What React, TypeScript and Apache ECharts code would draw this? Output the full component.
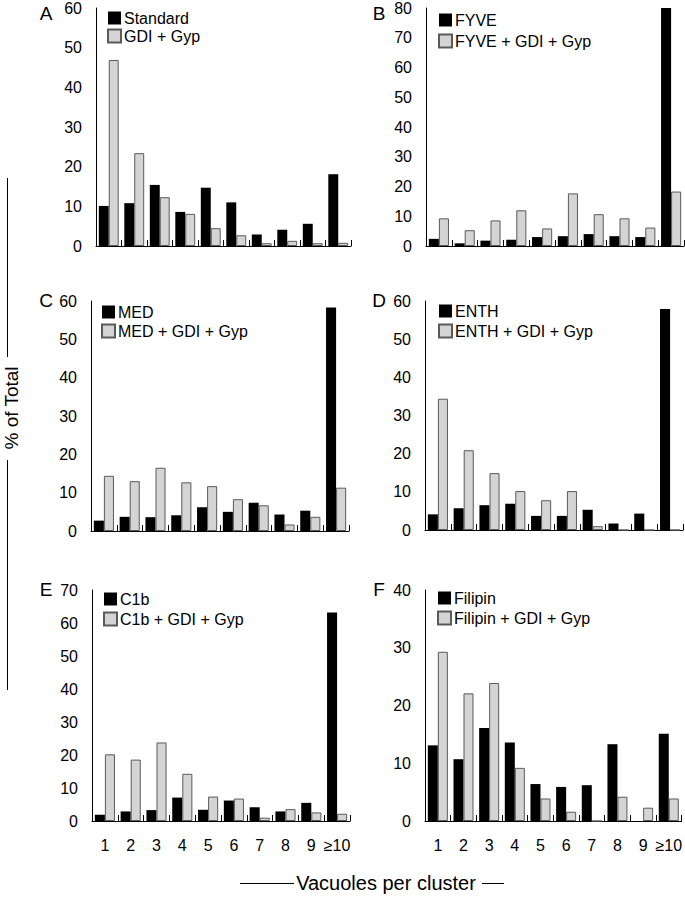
import React, { useEffect, useRef } from "react";
import * as echarts from "echarts";

const categories = ["1", "2", "3", "4", "5", "6", "7", "8", "9", "≥10"];

const standard = [10.1, 10.8, 15.4, 8.6, 14.7, 11.0, 2.9, 4.1, 5.6, 18.1];
const standardGdi = [46.9, 23.4, 12.3, 8.1, 4.5, 2.7, 0.7, 1.3, 0.7, 0.8];
const fyve = [2.4, 0.9, 1.8, 2.1, 3.0, 3.3, 4.0, 3.3, 3.0, 80];
const fyveGdi = [9.3, 5.3, 8.6, 12.0, 5.9, 17.7, 10.7, 9.3, 6.2, 18.3];
const med = [2.7, 3.7, 3.6, 4.1, 6.2, 5.0, 7.4, 4.3, 5.3, 58.3];
const medGdi = [14.4, 13.0, 16.5, 12.7, 11.7, 8.3, 6.7, 1.7, 3.7, 11.3];
const enth = [4.1, 5.7, 6.5, 6.9, 3.7, 3.7, 5.3, 1.7, 4.3, 57.9];
const enthGdi = [34.4, 20.9, 14.9, 10.2, 7.8, 10.2, 1.0, 0, 0, 0];
const c1b = [1.9, 2.9, 3.3, 7.1, 3.4, 6.2, 4.2, 2.9, 5.5, 63.2];
const c1bGdi = [20.2, 18.6, 23.8, 14.3, 7.4, 6.8, 1.0, 3.6, 2.6, 2.2];
const filipin = [13.1, 10.7, 16.1, 13.6, 6.4, 5.9, 6.2, 13.3, 0, 15.1];
const filipinGdi = [29.3, 22.1, 23.9, 9.2, 3.9, 1.6, 0, 4.2, 2.3, 3.9];

const panelLetters = ["A", "B", "C", "D", "E", "F"];
const yMax = [60, 80, 60, 60, 70, 40];
const seriesNames = [
  ["Standard", "GDI + Gyp"],
  ["FYVE", "FYVE + GDI + Gyp"],
  ["MED", "MED + GDI + Gyp"],
  ["ENTH", "ENTH + GDI + Gyp"],
  ["C1b", "C1b + GDI + Gyp"],
  ["Filipin", "Filipin + GDI + Gyp"],
];
const seriesData = [
  [standard, standardGdi],
  [fyve, fyveGdi],
  [med, medGdi],
  [enth, enthGdi],
  [c1b, c1bGdi],
  [filipin, filipinGdi],
];
const xTitle = "Vacuoles per cluster";
const yTitle = "% of Total";

const FONT = "Liberation Sans, Arial, Helvetica, sans-serif";

// layout (pixels)
const grids = [
  { left: 96, top: 8, width: 255, height: 238 },
  { left: 426, top: 8, width: 258, height: 238 },
  { left: 91, top: 301, width: 258, height: 230 },
  { left: 425, top: 301, width: 258, height: 229 },
  { left: 92, top: 590, width: 258, height: 231 },
  { left: 425, top: 590, width: 258, height: 231 },
];
const legendPos = [
  { left: 107, top: 10, gap: 2 },
  { left: 438, top: 12, gap: 5 },
  { left: 101, top: 304, gap: 3 },
  { left: 438, top: 303, gap: 4 },
  { left: 103, top: 591, gap: 4 },
  { left: 437, top: 590, gap: 4 },
];
const letterPos = [
  { x: 46, y: 13 },
  { x: 379, y: 13 },
  { x: 46, y: 300 },
  { x: 379, y: 300 },
  { x: 46, y: 589 },
  { x: 379, y: 589 },
];

export default function App() {
  const ref = useRef<HTMLDivElement>(null);
  useEffect(() => {
    document.body.style.margin = "0";
    if (!ref.current) return;
    const chart = echarts.init(ref.current, undefined, { renderer: "svg" });

    const xAxes = grids.map((_, i) => ({
      type: "category",
      gridIndex: i,
      data: categories,
      axisLine: { show: true, lineStyle: { color: "#000", width: 1 } },
      axisTick: { show: true, inside: true, length: 6, lineStyle: { color: "#000" } },
      axisLabel: {
        show: i >= 4,
        interval: 0,
        margin: 16,
        color: "#000",
        fontSize: 16,
        fontFamily: FONT,
      },
    }));
    const yAxes = grids.map((_, i) => ({
      type: "value",
      gridIndex: i,
      min: 0,
      max: yMax[i],
      interval: 10,
      splitLine: { show: false },
      axisLine: { show: true, lineStyle: { color: "#000", width: 1 } },
      axisTick: { show: false },
      axisLabel: { margin: 14, color: "#000", fontSize: 16, fontFamily: FONT },
    }));

    const series: any[] = [];
    seriesData.forEach((pair, i) => {
      series.push({
        type: "bar",
        name: seriesNames[i][0],
        xAxisIndex: i,
        yAxisIndex: i,
        data: pair[0],
        barGap: "0%",
        barCategoryGap: "22%",
        itemStyle: { color: "#000" },
      });
      series.push({
        type: "bar",
        name: seriesNames[i][1],
        xAxisIndex: i,
        yAxisIndex: i,
        data: pair[1],
        barGap: "0%",
        barCategoryGap: "22%",
        itemStyle: { color: "#d4d4d4", borderColor: "#5a5a5a", borderWidth: 1 },
      });
    });

    const legends = legendPos.map((p, i) => ({
      left: p.left,
      top: p.top,
      orient: "vertical",
      padding: 0,
      itemGap: p.gap,
      itemWidth: 13,
      itemHeight: 13,
      icon: "rect",
      selectedMode: false,
      data: seriesNames[i],
      textStyle: { color: "#000", fontSize: 16, fontFamily: FONT, padding: [0, 0, 0, -2] },
    }));

    const graphics: any[] = panelLetters.map((l, i) => ({
      type: "text",
      x: letterPos[i].x,
      y: letterPos[i].y,
      style: {
        text: l,
        font: `19px ${FONT}`,
        fill: "#000",
        align: "center",
        verticalAlign: "middle",
      },
    }));
    graphics.push(
      {
        type: "text",
        x: 11,
        y: 408,
        rotation: Math.PI / 2,
        style: {
          text: yTitle,
          font: `19px ${FONT}`,
          fill: "#000",
          align: "center",
          verticalAlign: "middle",
        },
      },
      { type: "line", shape: { x1: 7.5, y1: 178, x2: 7.5, y2: 357 }, style: { stroke: "#000", lineWidth: 1 } },
      { type: "line", shape: { x1: 7.5, y1: 460, x2: 7.5, y2: 690 }, style: { stroke: "#000", lineWidth: 1 } },
      {
        type: "text",
        x: 386,
        y: 883,
        style: {
          text: xTitle,
          font: `20px ${FONT}`,
          fill: "#000",
          align: "center",
          verticalAlign: "middle",
        },
      },
      { type: "line", shape: { x1: 240, y1: 883.5, x2: 294, y2: 883.5 }, style: { stroke: "#000", lineWidth: 1 } },
      { type: "line", shape: { x1: 482, y1: 883.5, x2: 504, y2: 883.5 }, style: { stroke: "#000", lineWidth: 1 } }
    );

    chart.setOption({
      animation: false,
      backgroundColor: "#fff",
      grid: grids.map((g) => ({ ...g, containLabel: false })),
      xAxis: xAxes,
      yAxis: yAxes,
      legend: legends,
      series,
      graphic: graphics,
    });
    return () => chart.dispose();
  }, []);
  return <div ref={ref} style={{ width: 685, height: 900 }} />;
}
